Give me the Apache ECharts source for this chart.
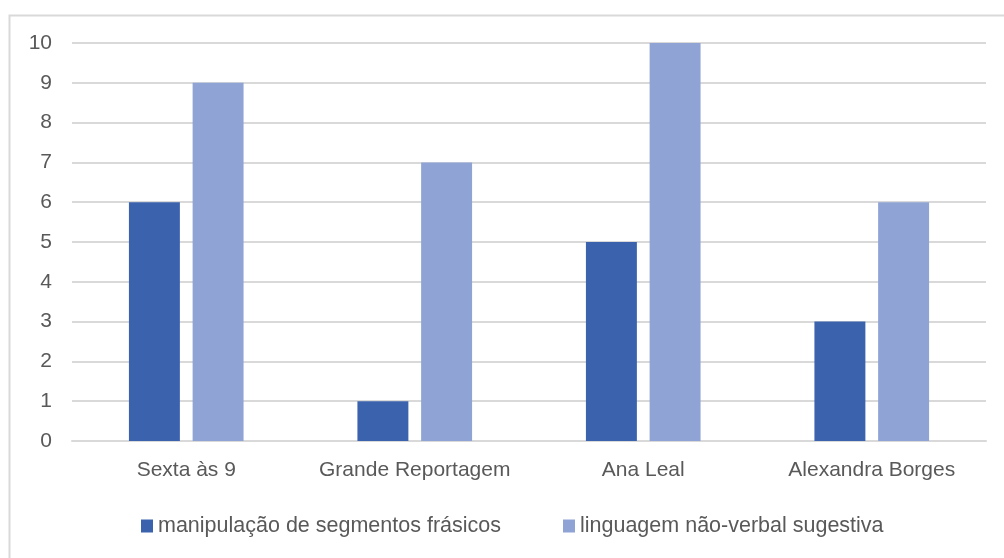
<!DOCTYPE html>
<html>
<head>
<meta charset="utf-8">
<script src="https://cdn.jsdelivr.net/npm/echarts@6/dist/echarts.min.js"></script>
<style>
  html, body { margin: 0; padding: 0; background: #fff; }
  #chart { width: 1004px; height: 558px; }
</style>
</head>
<body>
<div id="chart"></div>
<script>
  // dados
  var programas = ['Sexta às 9', 'Grande Reportagem', 'Ana Leal', 'Alexandra Borges']
  var manipulacao = [6, 1, 5, 3]
  var linguagem = [9, 7, 10, 6]
  var nomes = ['manipulação de segmentos frásicos', 'linguagem não-verbal sugestiva']

  var fonte = '"Liberation Sans", Arial, sans-serif'
  var myChart = echarts.init(document.getElementById('chart'))
  var option = {
    backgroundColor: '#fff',
    animation: false,
    graphic: [
      {
        type: 'rect',
        left: 7,
        top: 13,
        shape: { width: 1010, height: 560 },
        style: { fill: 'none', stroke: '#d9d9d9', lineWidth: 2 }
      }
    ],
    legend: {
      data: nomes,
      top: 510,
      left: 136,
      itemWidth: 12,
      itemHeight: 13,
      itemGap: 62,
      icon: 'rect',
      textStyle: { color: '#595959', fontSize: 21.5, fontFamily: fonte }
    },
    grid: {
      left: 72,
      right: 18,
      top: 43,
      bottom: 117
    },
    xAxis: {
      type: 'category',
      data: programas,
      axisLine: { lineStyle: { color: '#d9d9d9', width: 2 } },
      axisTick: { show: false },
      axisLabel: { color: '#595959', fontSize: 21, fontFamily: fonte, margin: 19, interval: 0 }
    },
    yAxis: {
      type: 'value',
      min: 0,
      max: 10,
      interval: 1,
      axisLine: { show: false },
      axisTick: { show: false },
      splitLine: { lineStyle: { color: '#d9d9d9', width: 2 } },
      axisLabel: { color: '#595959', fontSize: 21, fontFamily: fonte, margin: 20 }
    },
    series: [
      {
        name: nomes[0],
        type: 'bar',
        data: manipulacao,
        barWidth: '22.3%',
        barGap: '25%',
        itemStyle: { color: '#3B62AD' }
      },
      {
        name: nomes[1],
        type: 'bar',
        data: linguagem,
        barWidth: '22.3%',
        itemStyle: { color: '#8FA4D5' }
      }
    ]
  }
  myChart.setOption(option)
</script>
</body>
</html>
